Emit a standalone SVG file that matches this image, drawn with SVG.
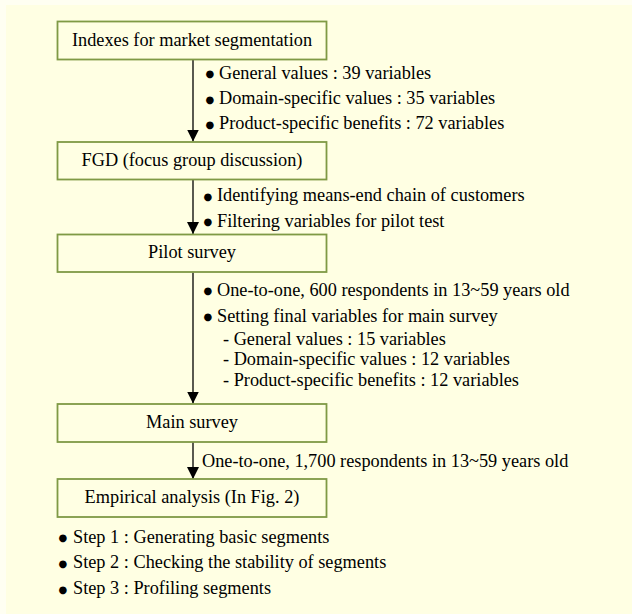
<svg xmlns="http://www.w3.org/2000/svg" width="632" height="614" viewBox="0 0 632 614">
<defs>
<style>
.bg{fill:#ffffe3}
.box{fill:#ffffe3;stroke:#7f9a45;stroke-width:1.8}
text{font-family:"Liberation Serif","Times New Roman",serif;font-size:18.3px;fill:#000}
.c{text-anchor:middle}
.b{font-family:"DejaVu Sans",sans-serif;font-size:10px}
.conn{stroke:#000;stroke-width:1.3;fill:none}
</style>
<marker id="ah" markerWidth="12" markerHeight="12" viewBox="0 0 12 12" refX="12" refY="6" orient="auto" markerUnits="userSpaceOnUse">
<path d="M0,0 L12,6 L0,12 Z" fill="#000"/>
</marker>
</defs>
<rect x="0" y="0" width="632" height="614" fill="#fffff2"/>
<rect class="bg" x="6" y="5" width="626" height="609"/>

<g id="connectors">
<line class="conn" x1="193" y1="60" x2="193" y2="141.5" marker-end="url(#ah)"/>
<line class="conn" x1="193" y1="180" x2="193" y2="234" marker-end="url(#ah)"/>
<line class="conn" x1="193" y1="272.5" x2="193" y2="403.5" marker-end="url(#ah)"/>
<line class="conn" x1="193" y1="442" x2="193" y2="479" marker-end="url(#ah)"/>
</g>

<g id="node-indexes">
<rect class="box" x="57.5" y="21.5" width="269" height="38"/>
<text class="c" x="192" y="45.5">Indexes for market segmentation</text>
</g>
<g id="node-fgd">
<rect class="box" x="57.5" y="142" width="269" height="37.5"/>
<text class="c" x="192" y="165.5">FGD (focus group discussion)</text>
</g>
<g id="node-pilot">
<rect class="box" x="57.5" y="234.5" width="269" height="37.5"/>
<text class="c" x="192" y="258">Pilot survey</text>
</g>
<g id="node-main">
<rect class="box" x="57.5" y="404" width="269" height="38"/>
<text class="c" x="192" y="427.5">Main survey</text>
</g>
<g id="node-empirical">
<rect class="box" x="57.5" y="479" width="269" height="38"/>
<text class="c" x="192" y="502.5">Empirical analysis (In Fig. 2)</text>
</g>

<g id="labels">
<text y="78.5"><tspan class="b" x="205.5" dy="-1.5">●</tspan><tspan x="219" dy="1.5">General values : 39 variables</tspan></text>
<text y="104"><tspan class="b" x="205.5" dy="-1.5">●</tspan><tspan x="219" dy="1.5">Domain-specific values : 35 variables</tspan></text>
<text y="129"><tspan class="b" x="205.5" dy="-1.5">●</tspan><tspan x="219" dy="1.5">Product-specific benefits : 72 variables</tspan></text>

<text y="201"><tspan class="b" x="203.5" dy="-1.5">●</tspan><tspan x="217" dy="1.5">Identifying means-end chain of customers</tspan></text>
<text y="226.7"><tspan class="b" x="203.5" dy="-1.5">●</tspan><tspan x="217" dy="1.5">Filtering variables for pilot test</tspan></text>

<text y="295.5"><tspan class="b" x="203.5" dy="-1.5">●</tspan><tspan x="217" dy="1.5">One-to-one, 600 respondents in 13~59 years old</tspan></text>
<text y="321.7"><tspan class="b" x="203.5" dy="-1.5">●</tspan><tspan x="217" dy="1.5">Setting final variables for main survey</tspan></text>
<text x="223" y="344.5">- General values : 15 variables</text>
<text x="223" y="365.3">- Domain-specific values : 12 variables</text>
<text x="223" y="386.3">- Product-specific benefits : 12 variables</text>

<text x="202" y="466.7">One-to-one, 1,700 respondents in 13~59 years old</text>

<text y="542.7"><tspan class="b" x="58.5" dy="-1.5">●</tspan><tspan x="73" dy="1.5">Step 1 : Generating basic segments</tspan></text>
<text y="568.3"><tspan class="b" x="58.5" dy="-1.5">●</tspan><tspan x="73" dy="1.5">Step 2 : Checking the stability of segments</tspan></text>
<text y="594"><tspan class="b" x="58.5" dy="-1.5">●</tspan><tspan x="73" dy="1.5">Step 3 : Profiling segments</tspan></text>
</g>
</svg>
